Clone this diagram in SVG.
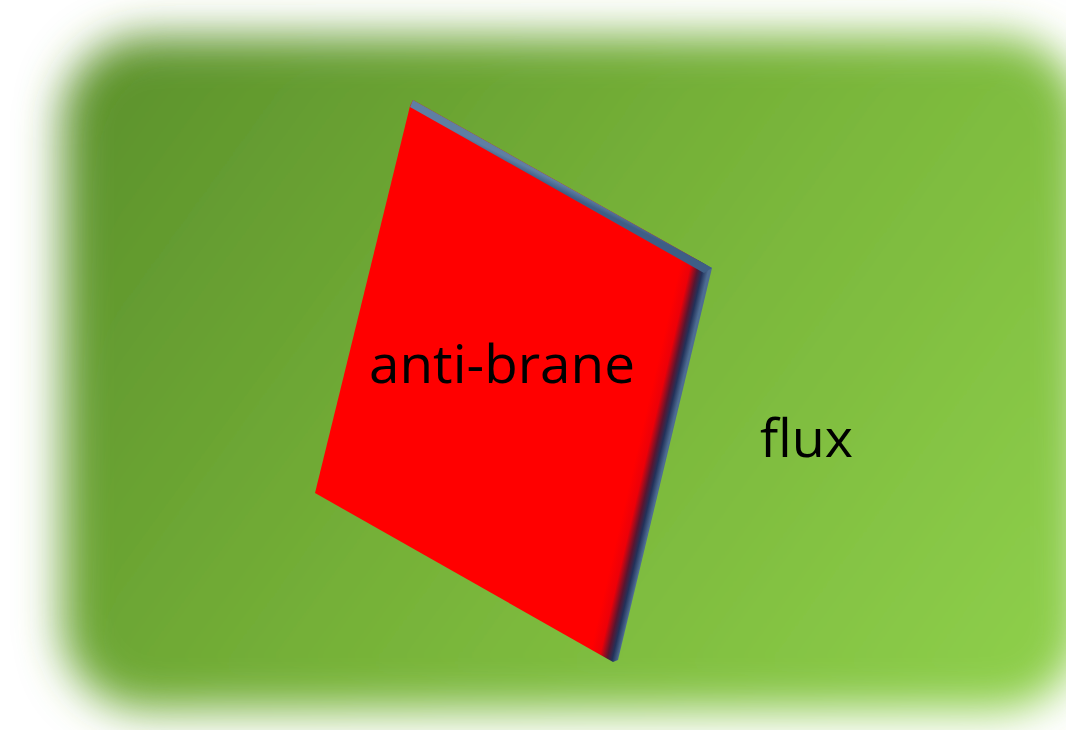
<svg xmlns="http://www.w3.org/2000/svg" width="1066" height="730" viewBox="0 0 1066 730">
  <defs>
    <linearGradient id="bg" gradientUnits="userSpaceOnUse" x1="120" y1="60" x2="1000" y2="700">
      <stop offset="0" stop-color="#5d932c"/>
      <stop offset="0.5" stop-color="#77b339"/>
      <stop offset="1" stop-color="#8dce4a"/>
    </linearGradient>
    <filter id="soft" x="-10%" y="-10%" width="120%" height="120%">
      <feGaussianBlur stdDeviation="22"/>
    </filter>
    <linearGradient id="face" gradientUnits="userSpaceOnUse" x1="590" y1="653.5" x2="618" y2="660">
      <stop offset="0" stop-color="#ff0000"/>
      <stop offset="0.35" stop-color="#ec0008"/>
      <stop offset="0.62" stop-color="#5a1530"/>
      <stop offset="0.8" stop-color="#22315a"/>
      <stop offset="1" stop-color="#4d6c92"/>
    </linearGradient>
    <linearGradient id="top" gradientUnits="userSpaceOnUse" x1="561" y1="184" x2="558" y2="190">
      <stop offset="0" stop-color="#5f7fa3"/>
      <stop offset="1" stop-color="#3e5e86"/>
    </linearGradient>
    <style>
      .lbl { font-family: "Open Sans", "Noto Sans", "Liberation Sans", sans-serif; font-size: 53px; fill: #000; }
    </style>
  </defs>
  <rect x="0" y="0" width="1066" height="730" fill="#ffffff"/>
  <rect x="62" y="36" width="1020" height="674" rx="85" fill="url(#bg)" filter="url(#soft)"/>
  <g id="anti-brane">
    <polygon points="413,100 712,268 618,660 613,662 315,493 410,106" fill="url(#face)"/>
    <polygon points="413,100 712,268 704,273 410,107" fill="url(#top)"/>
    <text class="lbl" x="369" y="383" textLength="266" lengthAdjust="spacingAndGlyphs">anti-brane</text>
  </g>
  <g id="flux">
    <text class="lbl" x="760" y="457" textLength="93" lengthAdjust="spacingAndGlyphs">flux</text>
  </g>
  <g id="connectors"/>
</svg>
